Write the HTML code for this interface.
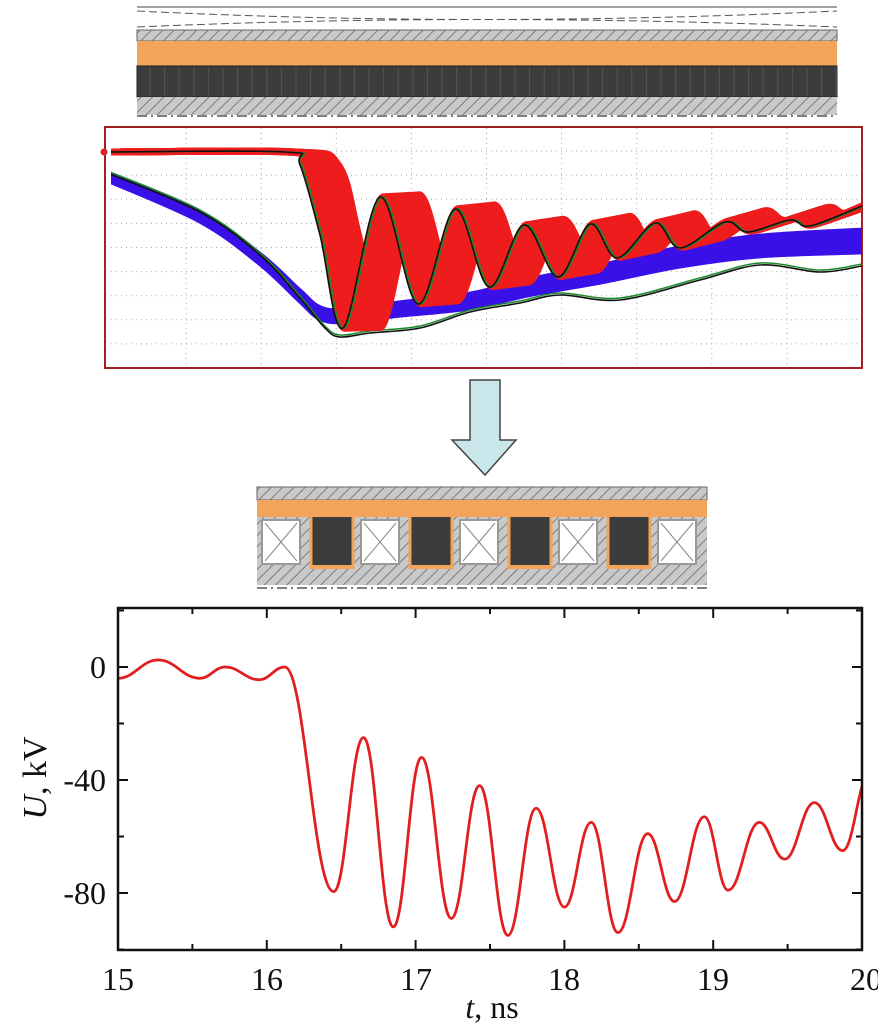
<!DOCTYPE html>
<html><head><meta charset="utf-8">
<style>
html,body{margin:0;padding:0;background:#fff;overflow:hidden;}
svg{display:block;}
text{font-family:"Liberation Serif",serif;fill:#111;}
</style></head>
<body>
<svg id="s" width="878" height="1024" viewBox="0 0 878 1024" xmlns="http://www.w3.org/2000/svg">
<defs>
<pattern id="hatch" width="8" height="8" patternUnits="userSpaceOnUse" patternTransform="rotate(45)">
<rect width="8" height="8" fill="#c9c9c9"/><line x1="0" y1="0" x2="0" y2="8" stroke="#6a6a6a" stroke-width="1.6"/>
</pattern>
<clipPath id="cOsc"><rect x="111" y="128" width="751" height="240"/></clipPath>
<clipPath id="cBot"><rect x="118" y="608" width="744" height="342"/></clipPath>
</defs>

<line x1="137" y1="7" x2="837" y2="7" stroke="#444" stroke-width="1"/>
<path d="M137 11 Q480 28 837 11" fill="none" stroke="#555" stroke-width="1" stroke-dasharray="8 4"/>
<path d="M137 27 Q480 12 837 27" fill="none" stroke="#555" stroke-width="1" stroke-dasharray="8 4"/>
<rect x="137" y="30" width="700" height="11" fill="url(#hatch)" stroke="#666" stroke-width="1"/>
<rect x="137" y="41" width="700" height="25" fill="#f2a55a"/>
<rect x="137" y="66" width="700" height="31" fill="#3c3c3c" stroke="#222"/>
<g id="segs" stroke="#555" stroke-width="1"></g>
<rect x="137" y="97" width="700" height="18" fill="url(#hatch)"/>
<line x1="137" y1="116" x2="837" y2="116" stroke="#555" stroke-width="1.5" stroke-dasharray="10 4 2 4"/>

<rect x="105" y="127" width="757" height="241" fill="#fff" stroke="#a02020" stroke-width="2"/>
<g id="grid" stroke="#aaa" stroke-width="1" stroke-dasharray="1 4"></g>
<g clip-path="url(#cOsc)" id="osc" fill="none" stroke-linejoin="round" stroke-linecap="round"></g>
<circle cx="104" cy="152" r="3.5" fill="#d22"/>

<path d="M470 380 H500 V440 H516 L485 475 L452 440 H470 Z" fill="#c9e6ea" stroke="#444" stroke-width="1.5"/>

<rect x="257" y="487" width="450" height="13" fill="url(#hatch)" stroke="#666"/>
<rect x="257" y="500" width="450" height="17" fill="#f2a55a"/>
<rect x="257" y="517" width="450" height="68" fill="url(#hatch)"/>
<g id="cells"></g>
<line x1="257" y1="588" x2="707" y2="588" stroke="#555" stroke-width="1.5" stroke-dasharray="10 4 2 4"/>

<g clip-path="url(#cBot)"><path id="curve" fill="none" stroke="#e02020" stroke-width="2.8"/></g>
<rect x="118" y="608" width="744" height="342" fill="none" stroke="#111" stroke-width="2.5"/>
<g id="ticks" stroke="#111" stroke-width="2"></g>
<g font-size="32" text-anchor="end">
<text x="106" y="678">0</text>
<text x="106" y="791">-40</text>
<text x="106" y="904">-80</text>
</g>
<g font-size="32" text-anchor="middle">
<text x="118" y="990">15</text>
<text x="267" y="990">16</text>
<text x="416" y="990">17</text>
<text x="564" y="990">18</text>
<text x="713" y="990">19</text>
<text x="866" y="990">20</text>
<text x="492" y="1018"><tspan font-style="italic">t</tspan>, ns</text>
</g>
<text font-size="34" text-anchor="middle" transform="translate(46 778) rotate(-90)"><tspan font-style="italic">U</tspan>, kV</text>
</svg>
<script>
var NS="http://www.w3.org/2000/svg";
function el(p,t,a){var e=document.createElementNS(NS,t);for(var k in a)e.setAttribute(k,a[k]);p.appendChild(e);return e;}
function smooth(pts){var d="M"+pts[0][0]+" "+pts[0][1];for(var i=1;i<pts.length;i++){var a=pts[i-1],b=pts[i],dx=(b[0]-a[0])/2.4;d+=" C"+(a[0]+dx)+" "+a[1]+" "+(b[0]-dx)+" "+b[1]+" "+b[0]+" "+b[1];}return d;}
function cr(pts){var d="M"+pts[0][0]+" "+pts[0][1];for(var i=0;i<pts.length-1;i++){var p0=pts[Math.max(0,i-1)],p1=pts[i],p2=pts[i+1],p3=pts[Math.min(pts.length-1,i+2)];d+=" C"+(p1[0]+(p2[0]-p0[0])/6)+" "+(p1[1]+(p2[1]-p0[1])/6)+" "+(p2[0]-(p3[0]-p1[0])/6)+" "+(p2[1]-(p3[1]-p1[1])/6)+" "+p2[0]+" "+p2[1];}return d;}
var sg=document.getElementById("segs");for(var x=150;x<837;x+=14.6)el(sg,"line",{x1:x,y1:67,x2:x,y2:96});
var g=document.getElementById("grid");
for(var i=1;i<10;i++){var x=111+i*75.1;el(g,"line",{x1:x,y1:128,x2:x,y2:367});}
for(var j=1;j<10;j++){var y=127+j*24.1;el(g,"line",{x1:111,y1:y,x2:861,y2:y});}
var o=document.getElementById("osc");
var blue=[[105,176],[200,217],[260,259],[300,296],[320,313],[345,316],[400,309],[470,301],[530,287],[600,274],[680,257],[760,246],[862,241]];
for(var k=0;k<7;k++){el(o,"path",{d:cr(blue.map(function(p,i){var t=(p[0]-105)/757;return [p[0],p[1]+(k-3)*(1.2+t*2.6)];})),stroke:"#3a10e8","stroke-width":k==0||k==6?4:6});}
var bl=[[105,172],[200,212],[260,255],[300,298],[325,328],[340,337],[370,333],[420,328],[470,312],[520,303],[560,295],[620,300],[700,280],[760,265],[820,272],[862,266]];
el(o,"path",{d:cr(bl.map(function(p){return[p[0],p[1]-2]})),stroke:"#1a8a2a","stroke-width":1.5});
el(o,"path",{d:cr(bl),stroke:"#111","stroke-width":1.6});
var osc=[[105,152],[285,152],[300,165],[320,235],[343,328],[380,197],[418,304],[455,209],[489,287],[524,225],[558,277],[590,224],[617,258],[655,223],[680,248],[725,222],[748,232],[790,220],[810,226],[862,206]];
for(var k=12;k>=1;k--){var dx=k*3.2,dy=-k*1.2;el(o,"path",{d:cr(osc.map(function(p){var t=p[0]>300?1:0;return[p[0]+dx*(p[0]<290?0.3:1),p[1]+dy*t*((p[0]-300)/560)];})),stroke:"#ee1c1c","stroke-width":7});}
el(o,"path",{d:cr(osc.map(function(p){return[p[0]+2,p[1]]})),stroke:"#1a8a2a","stroke-width":1.5});
el(o,"path",{d:cr(osc),stroke:"#111","stroke-width":1.6});
var c=document.getElementById("cells");
for(var i=0;i<9;i++){var x=262+i*49.5;
 if(i%2==0){el(c,"rect",{x:x,y:520,width:38,height:44,fill:"#fff",stroke:"#999","stroke-width":2});
  el(c,"line",{x1:x+3,y1:523,x2:x+35,y2:561,stroke:"#888"});el(c,"line",{x1:x+35,y1:523,x2:x+3,y2:561,stroke:"#888"});}
 else{el(c,"rect",{x:x-2,y:517,width:45,height:52,fill:"#f2a55a"});el(c,"rect",{x:x+1,y:517,width:39,height:48,fill:"#3c3c3c"});}}
var X=function(t){return 118+(t-15)*148.8},Y=function(u){return 667-u*2.825};
var pts=[[14.9,-6],[15,-4],[15.27,2.5],[15.55,-4],[15.72,0],[15.95,-4.5],[16.12,0],[16.45,-79.5],[16.65,-25],[16.85,-92],[17.04,-32],[17.24,-89],[17.43,-42],[17.62,-95],[17.81,-50],[18.0,-85],[18.18,-55],[18.36,-94],[18.56,-59],[18.74,-83],[18.94,-53],[19.1,-79],[19.31,-55],[19.48,-68],[19.68,-48],[19.87,-65],[20.05,-38]].map(function(p){return[X(p[0]),Y(p[1])]});
document.getElementById("curve").setAttribute("d",smooth(pts));
var tk=document.getElementById("ticks");
for(var t=15;t<=20;t+=0.5){var x=X(t),L=(t%1==0)?10:6;el(tk,"line",{x1:x,y1:950,x2:x,y2:950-L});el(tk,"line",{x1:x,y1:608,x2:x,y2:608+L});}
for(var u=20;u>=-100;u-=20){var y=Y(u),L=(u%40==0)?10:6;el(tk,"line",{x1:118,y1:y,x2:118+L,y2:y});el(tk,"line",{x1:862,y1:y,x2:862-L,y2:y});}
</script>
</body></html>
